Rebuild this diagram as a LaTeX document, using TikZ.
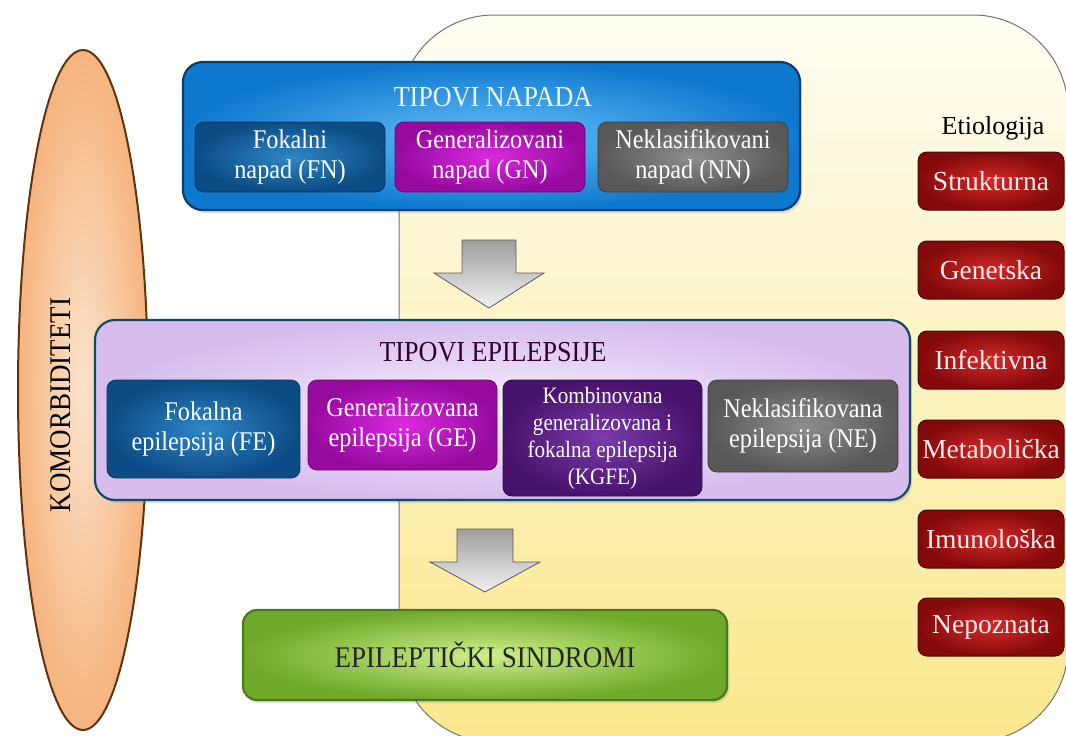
\documentclass[tikz,border=0pt]{standalone}
\usepackage{fontspec}
\setmainfont{Liberation Serif}
\newfontfamily\narrowfont{Liberation Serif}[FakeStretch=0.9]
\usetikzlibrary{positioning,calc,shadows,shapes.geometric}
\definecolor{panelTop}{HTML}{FEFDF3}
\definecolor{panelBot}{HTML}{FBE88C}
\definecolor{komIn}{HTML}{FBE3CC}
\definecolor{komOut}{HTML}{F6B47E}
\definecolor{komLine}{HTML}{5E3410}
\definecolor{napIn}{HTML}{64BEF7}
\definecolor{napOut}{HTML}{0E78CF}
\definecolor{napLine}{HTML}{0B3D6B}
\definecolor{fokIn}{HTML}{2F86C6}
\definecolor{fokOut}{HTML}{0C4C84}
\definecolor{genIn}{HTML}{DA2ADF}
\definecolor{genOut}{HTML}{960A9E}
\definecolor{nekIn}{HTML}{8E8E8E}
\definecolor{nekOut}{HTML}{585858}
\definecolor{epiIn}{HTML}{F8F1FC}
\definecolor{epiOut}{HTML}{D6BDEE}
\definecolor{epiLine}{HTML}{114A66}
\definecolor{kgfIn}{HTML}{7B3CAA}
\definecolor{kgfOut}{HTML}{47126C}
\definecolor{synIn}{HTML}{CDF08A}
\definecolor{synOut}{HTML}{6FA92A}
\definecolor{synLine}{HTML}{4A7A1E}
\definecolor{etiIn}{HTML}{D22A2A}
\definecolor{etiOut}{HTML}{840909}
\definecolor{etiLine}{HTML}{4A0707}

\tikzset{
  card/.style={rounded corners=9pt, align=center, text=white, inner sep=0pt,
    font=\narrowfont\fontsize{27}{30}\selectfont, line width=0.8pt},
  fokal/.style={card, inner color=fokIn, outer color=fokOut, draw=fokOut!70!black},
  gener/.style={card, inner color=genIn, outer color=genOut, draw=genOut!70!black},
  nekla/.style={card, inner color=nekIn, outer color=nekOut, draw=nekOut!70!black},
  kombi/.style={card, inner color=kgfIn, outer color=kgfOut, draw=kgfOut!70!black},
  etio/.style={rounded corners=9pt, inner color=etiIn, outer color=etiOut, draw=etiLine,
    line width=1pt, text=white!92!red, minimum width=146pt, minimum height=58pt,
    inner sep=0pt, font=\fontsize{27.5}{30}\selectfont},
  bigbox/.style={rounded corners=20pt, line width=2.2pt, inner sep=0pt,
    drop shadow={opacity=0.25, shadow xshift=2pt, shadow yshift=-3pt}},
  title/.style={font=\narrowfont\fontsize{29}{30}\selectfont, inner sep=0pt},
  downarrow/.style={top color=black!38, bottom color=black!5, draw=black!65, line width=0.8pt}
}

\begin{document}
\begin{tikzpicture}[x=1pt,y=-1pt]
  \useasboundingbox (0,0) rectangle (1066,736);

  % background panel
  \draw[top color=panelTop, bottom color=panelBot, draw=black!55, line width=1pt,
    rounded corners=95pt] (399,15) rectangle (1068,742);

  % comorbidities
  \node[ellipse, minimum width=130pt, minimum height=680pt, inner sep=0pt,
    inner color=komIn, outer color=komOut,
    draw=komLine, line width=2pt] (komor) at (83,390) {};
  \node[rotate=90, font=\narrowfont\fontsize{30}{30}\selectfont] (komtext) at (61,405) {KOMORBIDITETI};

  % seizure types
  \node[bigbox, minimum width=617pt, minimum height=148pt, inner color=napIn,
    outer color=napOut, draw=napLine] (napad) at (491.5,136) {};
  \node[title, text=white!88!napIn] (napadtitle) at (493,97) {TIPOVI NAPADA};
  \node[fokal, minimum width=190pt, minimum height=70pt] (fn) at (290,157) {Fokalni\\napad (FN)};
  \node[gener, minimum width=190pt, minimum height=70pt] (gn) at (490,157) {Generalizovani\\napad (GN)};
  \node[nekla, minimum width=190pt, minimum height=70pt] (nn) at (693,157) {Neklasifikovani\\napad (NN)};

  % arrow 1
  \coordinate (a1) at (489,240);
  \draw[downarrow] (a1) ++(-27,0) -- ++(54,0) -- ++(0,33) -- ++(28,0) -- ++(-55,35)
    -- ++(-55,-35) -- ++(28,0) -- cycle;

  % epilepsy types
  \node[bigbox, minimum width=815pt, minimum height=180pt, inner color=epiIn,
    outer color=epiOut, draw=epiLine] (epi) at (502.5,410) {};
  \node[title, text=black!60!violet] (epititle) at (493,352) {TIPOVI EPILEPSIJE};
  \node[fokal, minimum width=193pt, minimum height=98pt] (fe) at (203.5,429) {Fokalna\\epilepsija (FE)};
  \node[gener, minimum width=189pt, minimum height=90pt] (ge) at (402.5,425) {Generalizovana\\epilepsija (GE)};
  \node[kombi, minimum width=199pt, minimum height=116pt,
    font=\narrowfont\fontsize{23.5}{27}\selectfont] (kgfe) at (602.5,438)
    {Kombinovana\\generalizovana i\\fokalna epilepsija\\(KGFE)};
  \node[nekla, minimum width=190pt, minimum height=92pt] (ne) at (803,426) {Neklasifikovana\\epilepsija (NE)};

  % arrow 2
  \coordinate (a2) at (485,529);
  \draw[downarrow] (a2) ++(-28,0) -- ++(56,0) -- ++(0,33) -- ++(27,0) -- ++(-55,30)
    -- ++(-55,-30) -- ++(27,0) -- cycle;

  % syndromes
  \node[bigbox, rounded corners=14pt, minimum width=484pt, minimum height=90pt,
    inner color=synIn, outer color=synOut, draw=synLine,
    font=\narrowfont\fontsize{30}{32}\selectfont, text=black!85] (sindromi) at (485,655)
    {EPILEPTIČKI SINDROMI};

  % etiology
  \node[font=\fontsize{26}{30}\selectfont, inner sep=0pt] (etiol) at (993,128) {Etiologija};
  \node[etio] (str) at (991,181) {Strukturna};
  \node[etio] (gen) at (991,270) {Genetska};
  \node[etio] (inf) at (991,360) {Infektivna};
  \node[etio] (met) at (991,449) {Metabolička};
  \node[etio] (imu) at (991,539) {Imunološka};
  \node[etio] (nep) at (991,627) {Nepoznata};
\end{tikzpicture}
\end{document}
